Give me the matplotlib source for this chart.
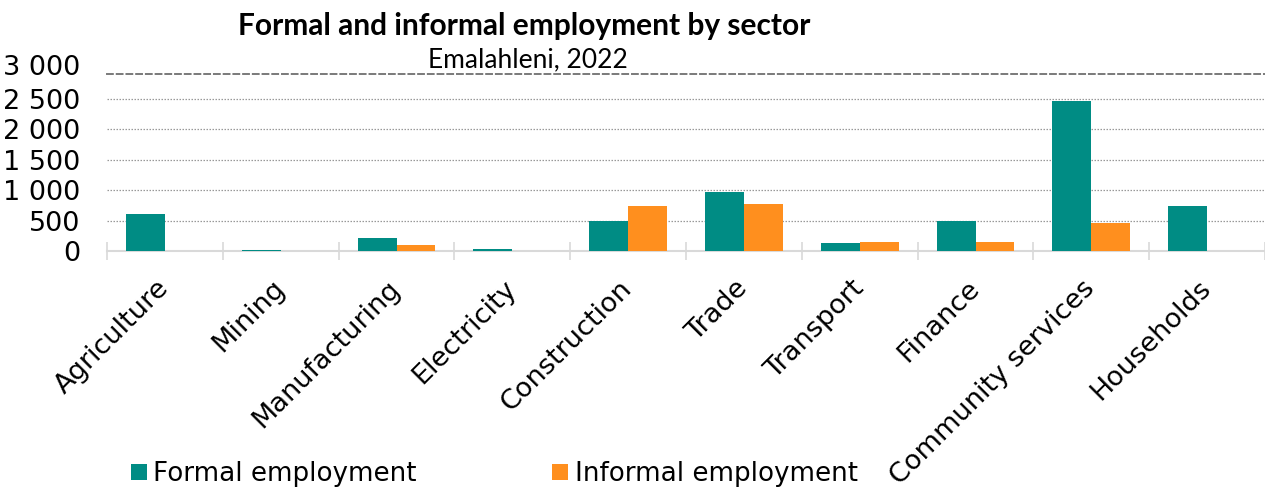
import numpy as np
import matplotlib.pyplot as plt
from matplotlib.ticker import FixedLocator

# --- DATA ---
sectors = ["Agriculture", "Mining", "Manufacturing", "Electricity", "Construction",
           "Trade", "Transport", "Finance", "Community services", "Households"]
formal = [615, 20, 205, 38, 488, 960, 137, 488, 2460, 746]
informal = [0, 0, 104, 0, 746, 779, 140, 153, 466, 0]
y_ticks = [0, 500, 1000, 1500, 2000, 2500]

teal = "#008C84"
orange = "#FF8F1E"

fig = plt.figure(figsize=(12.65, 4.9), dpi=100)
ax = fig.add_axes([0.0846, 0.4878, 0.9154, 0.3612])

x = np.arange(len(sectors))
w = 0.336
ax.bar(x - w / 2, formal, width=w, color=teal, label="Formal employment", zorder=3)
ax.bar(x + w / 2, informal, width=w, color=orange, label="Informal employment", zorder=3)

ax.set_xlim(-0.5, len(sectors) - 0.5)
ax.set_ylim(0, 2905)

# y axis: space as thousands separator
ax.set_yticks(y_ticks)
ax.set_yticklabels([f"{v:,}".replace(",", " ") for v in y_ticks])
ax.tick_params(axis="y", length=0, pad=19, labelsize=19.5)
ax.text(-0.0233, 3000, "3 000", transform=ax.get_yaxis_transform(), ha="right",
        va="center", fontsize=19.5, clip_on=False)

for v in y_ticks[1:]:
    ax.axhline(v, color="#999999", lw=0.9, ls=(0, (1.2, 1.2)), zorder=1)

# x axis: labels at the centres, separators between groups
ax.set_xticks(x)
ax.set_xticklabels(sectors, rotation=45, ha="right", va="center", rotation_mode="anchor",
                   fontsize=19.5)
ax.tick_params(axis="x", length=0, pad=24)
ax.xaxis.set_minor_locator(FixedLocator(np.arange(-0.5, len(sectors), 1.0)))
ax.tick_params(axis="x", which="minor", direction="inout", length=13, width=1.2,
               color="#d9d9d9")

for side in ["left", "right"]:
    ax.spines[side].set_visible(False)
ax.spines["bottom"].set_color("#d9d9d9")
ax.spines["bottom"].set_linewidth(1.5)
ax.spines["top"].set_color("#7a7a7a")
ax.spines["top"].set_linewidth(1.4)
ax.spines["top"].set_linestyle((0, (3, 2)))

fig.text(0.414, 0.947, "Formal and informal employment by sector", ha="center",
         va="center", fontsize=21.5, fontweight="bold", family="Lato")
fig.text(0.4175, 0.878, "Emalahleni, 2022", ha="center", va="center", fontsize=19,
         family="Lato")

ax.legend(loc="center left", ncol=2, frameon=False, fontsize=18.8, handlelength=0.6,
          handleheight=0.6, handletextpad=0.25, columnspacing=5.2,
          bbox_to_anchor=(0.085, 0.032), bbox_transform=fig.transFigure)

fig.savefig("out.png", dpi=100)
